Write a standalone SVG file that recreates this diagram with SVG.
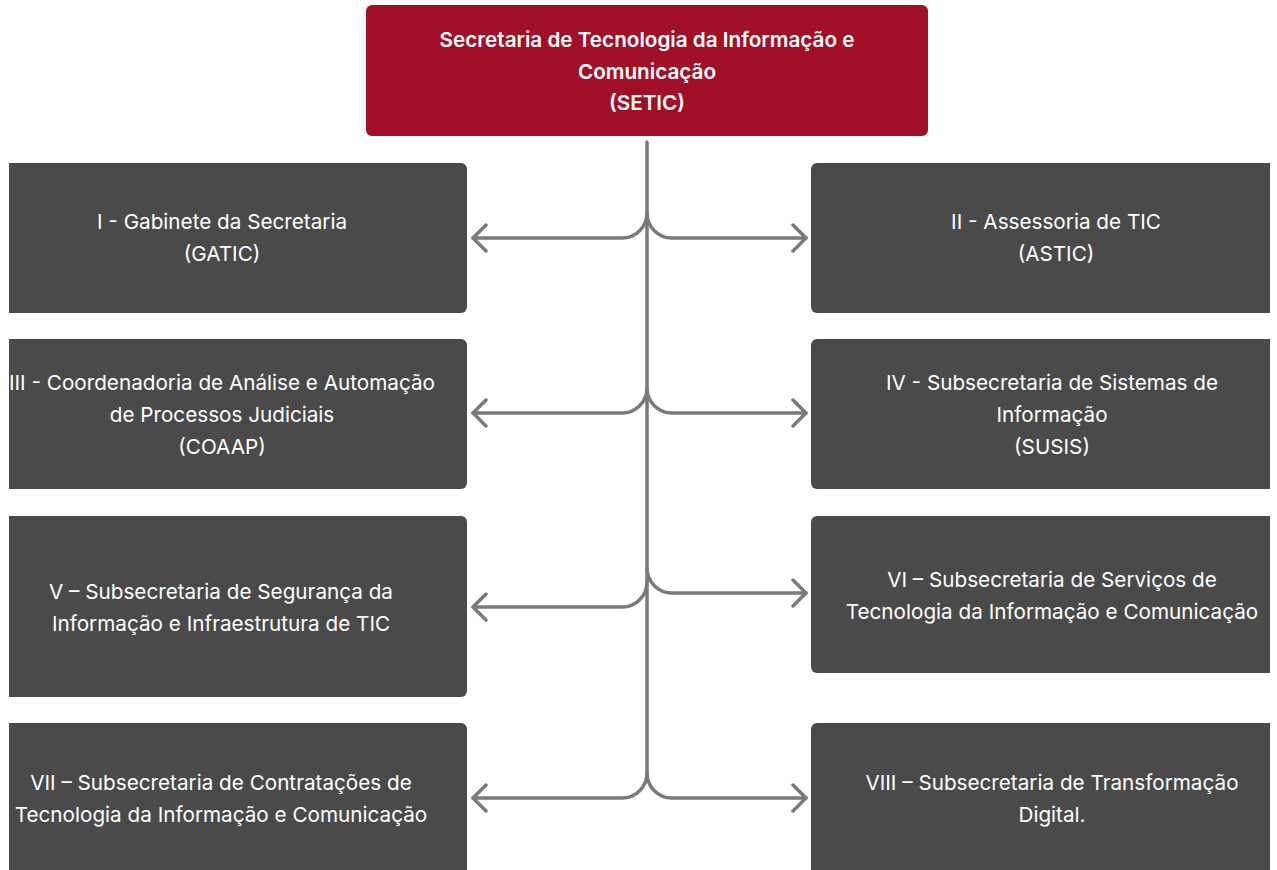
<svg xmlns="http://www.w3.org/2000/svg" width="1277" height="870" viewBox="0 0 1277 870">
  <style>
    .box { fill: #4a4a4a; }
    .top { fill: #a01128; }
    .t { font-family: Inter, "Noto Sans", "Liberation Sans", sans-serif; font-size: 20.7px; fill: #ffffff; text-anchor: middle; }
    .tb { font-weight: 600; }
    .con { fill: none; stroke: #7a7a7a; stroke-width: 3.5; stroke-linecap: round; }
  </style>
  <defs>
    <marker id="chev" viewBox="-15 -15 30 30" markerWidth="30" markerHeight="30" refX="0" refY="0" orient="auto" markerUnits="userSpaceOnUse">
      <path d="M-13,-13 L0,0 L-13,13" fill="none" stroke="#7a7a7a" stroke-width="3.5" stroke-linecap="round" stroke-linejoin="round"/>
    </marker>
  </defs>
  <rect width="1277" height="870" fill="#ffffff"/>

  <g id="connectors">
    <path class="con" d="M647,142 V773"/>
    <path class="con" marker-end="url(#chev)" d="M647,213 A25,25 0 0 1 622,238 H473"/>
    <path class="con" marker-end="url(#chev)" d="M647,213 A25,25 0 0 0 672,238 H806"/>
    <path class="con" marker-end="url(#chev)" d="M647,388 A25,25 0 0 1 622,413 H473"/>
    <path class="con" marker-end="url(#chev)" d="M647,388 A25,25 0 0 0 672,413 H806"/>
    <path class="con" marker-end="url(#chev)" d="M647,582 A25,25 0 0 1 622,607 H473"/>
    <path class="con" marker-end="url(#chev)" d="M647,568 A25,25 0 0 0 672,593 H806"/>
    <path class="con" marker-end="url(#chev)" d="M647,773 A25,25 0 0 1 622,798 H473"/>
    <path class="con" marker-end="url(#chev)" d="M647,773 A25,25 0 0 0 672,798 H806"/>
  </g>

  <g id="setic">
    <rect class="top" x="366" y="5" width="562" height="131" rx="6"/>
    <text class="t tb" x="647" y="47">Secretaria de Tecnologia da Informação e</text>
    <text class="t tb" x="647" y="79">Comunicação</text>
    <text class="t tb" x="647" y="110">(SETIC)</text>
  </g>

  <g id="gatic">
    <path class="box" d="M9,163 H461 A6,6 0 0 1 467,169 V307 A6,6 0 0 1 461,313 H9 Z"/>
    <text class="t" x="222" y="229">I - Gabinete da Secretaria</text>
    <text class="t" x="222" y="261">(GATIC)</text>
  </g>

  <g id="astic">
    <path class="box" d="M1270,163 H817 A6,6 0 0 0 811,169 V307 A6,6 0 0 0 817,313 H1270 Z"/>
    <text class="t" x="1056" y="229">II - Assessoria de TIC</text>
    <text class="t" x="1056" y="261">(ASTIC)</text>
  </g>

  <g id="coaap">
    <path class="box" d="M9,339 H461 A6,6 0 0 1 467,345 V483 A6,6 0 0 1 461,489 H9 Z"/>
    <text class="t" x="222" y="390">III - Coordenadoria de Análise e Automação</text>
    <text class="t" x="222" y="422">de Processos Judiciais</text>
    <text class="t" x="222" y="454">(COAAP)</text>
  </g>

  <g id="susis">
    <path class="box" d="M1270,339 H817 A6,6 0 0 0 811,345 V483 A6,6 0 0 0 817,489 H1270 Z"/>
    <text class="t" x="1052" y="390">IV - Subsecretaria de Sistemas de</text>
    <text class="t" x="1052" y="422">Informação</text>
    <text class="t" x="1052" y="454">(SUSIS)</text>
  </g>

  <g id="seguranca">
    <path class="box" d="M9,516 H461 A6,6 0 0 1 467,522 V691 A6,6 0 0 1 461,697 H9 Z"/>
    <text class="t" x="221" y="599">V – Subsecretaria de Segurança da</text>
    <text class="t" x="221" y="631">Informação e Infraestrutura de TIC</text>
  </g>

  <g id="servicos">
    <path class="box" d="M1270,516 H817 A6,6 0 0 0 811,522 V667 A6,6 0 0 0 817,673 H1270 Z"/>
    <text class="t" x="1052" y="587">VI – Subsecretaria de Serviços de</text>
    <text class="t" x="1052" y="619">Tecnologia da Informação e Comunicação</text>
  </g>

  <g id="contratacoes">
    <path class="box" d="M9,723 H461 A6,6 0 0 1 467,729 V880 H9 Z"/>
    <text class="t" x="221" y="790">VII – Subsecretaria de Contratações de</text>
    <text class="t" x="221" y="822">Tecnologia da Informação e Comunicação</text>
  </g>

  <g id="transformacao">
    <path class="box" d="M1270,723 H817 A6,6 0 0 0 811,729 V880 H1270 Z"/>
    <text class="t" x="1052" y="790">VIII – Subsecretaria de Transformação</text>
    <text class="t" x="1052" y="822">Digital.</text>
  </g>
</svg>
